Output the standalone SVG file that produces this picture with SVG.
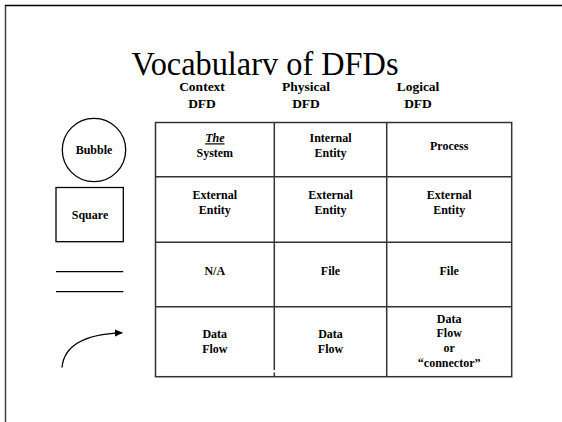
<svg xmlns="http://www.w3.org/2000/svg" width="562" height="422" viewBox="0 0 562 422">
<defs>
<style>
.ln{stroke:#000;stroke-width:1.3;fill:none}
.tb{stroke:#333;stroke-width:1.5;fill:none}
.t{font-family:"Liberation Serif","DejaVu Serif","Times New Roman",serif;font-weight:bold;font-size:12px;text-anchor:middle;fill:#000}
.h{font-family:"Liberation Serif","DejaVu Serif","Times New Roman",serif;font-weight:bold;font-size:13.5px;text-anchor:middle;fill:#000}
.ti{font-family:"Liberation Serif","DejaVu Serif","Times New Roman",serif;font-size:34px;text-anchor:middle;fill:#000}
</style>
<marker id="ah" markerWidth="8" markerHeight="8" refX="7" refY="4" orient="auto" markerUnits="userSpaceOnUse">
<path d="M0,0.5 L8,4 L0,7.5 Z" fill="#000"/>
</marker>
</defs>
<rect width="562" height="422" fill="#fff"/>
<g id="frame">
<line x1="5.5" y1="5" x2="5.5" y2="422" stroke="#444" stroke-width="1.5"/>
<line x1="5" y1="5.5" x2="562" y2="5.5" stroke="#000" stroke-width="1.3"/>
</g>
<text class="ti" x="265" y="75" textLength="267" lengthAdjust="spacingAndGlyphs">Vocabularv of DFDs</text>
<g id="headers">
<text class="h" x="202" y="91">Context</text>
<text class="h" x="202" y="108">DFD</text>
<text class="h" x="306" y="91">Physical</text>
<text class="h" x="306" y="108">DFD</text>
<text class="h" x="418" y="91">Logical</text>
<text class="h" x="418" y="108">DFD</text>
</g>
<g id="bubble">
<circle class="ln" cx="94" cy="150" r="31.7"/>
<text class="t" x="94" y="153.5">Bubble</text>
</g>
<g id="square">
<rect class="ln" x="56" y="187.5" width="67.3" height="54.2"/>
<text class="t" x="90" y="218.5">Square</text>
</g>
<g id="file-symbol">
<line class="ln" x1="56" y1="271.7" x2="123.3" y2="271.7"/>
<line class="ln" x1="56" y1="291.7" x2="123.3" y2="291.7"/>
</g>
<g id="connectors">
<path class="ln" d="M62,367.5 C64,345 85,334 122,332.8" marker-end="url(#ah)"/>
</g>
<g id="table">
<rect class="tb" x="155.5" y="122.5" width="356.2" height="254.2"/>
<line class="tb" x1="274.3" y1="122.5" x2="274.3" y2="370"/>
<line class="tb" x1="274.3" y1="372.5" x2="274.3" y2="376.7"/>
<line class="tb" x1="386.7" y1="122.5" x2="386.7" y2="376.7"/>
<line class="tb" x1="155.5" y1="176.7" x2="511.7" y2="176.7"/>
<line class="tb" x1="155.5" y1="242.3" x2="511.7" y2="242.3"/>
<line class="tb" x1="155.5" y1="306.7" x2="511.7" y2="306.7"/>
</g>
<g id="cells">
<text class="t" x="214.8" y="142.3" font-style="italic" text-decoration="underline">The</text>
<text class="t" x="214.8" y="156.7">System</text>
<text class="t" x="330.5" y="141.7">Internal</text>
<text class="t" x="330.5" y="156.7">Entity</text>
<text class="t" x="449.2" y="150">Process</text>
<text class="t" x="214.8" y="199.3">External</text>
<text class="t" x="214.8" y="214">Entity</text>
<text class="t" x="330.5" y="199.3">External</text>
<text class="t" x="330.5" y="214">Entity</text>
<text class="t" x="449.2" y="199.3">External</text>
<text class="t" x="449.2" y="214">Entity</text>
<text class="t" x="214.8" y="275">N/A</text>
<text class="t" x="330.5" y="275">File</text>
<text class="t" x="449.2" y="275">File</text>
<text class="t" x="214.8" y="338.3">Data</text>
<text class="t" x="214.8" y="353.3">Flow</text>
<text class="t" x="330.5" y="338.3">Data</text>
<text class="t" x="330.5" y="353.3">Flow</text>
<text class="t" x="449.2" y="322.7">Data</text>
<text class="t" x="449.2" y="337.3">Flow</text>
<text class="t" x="449.2" y="351.7">or</text>
<text class="t" x="449.2" y="366.7">“connector”</text>
</g>
</svg>
